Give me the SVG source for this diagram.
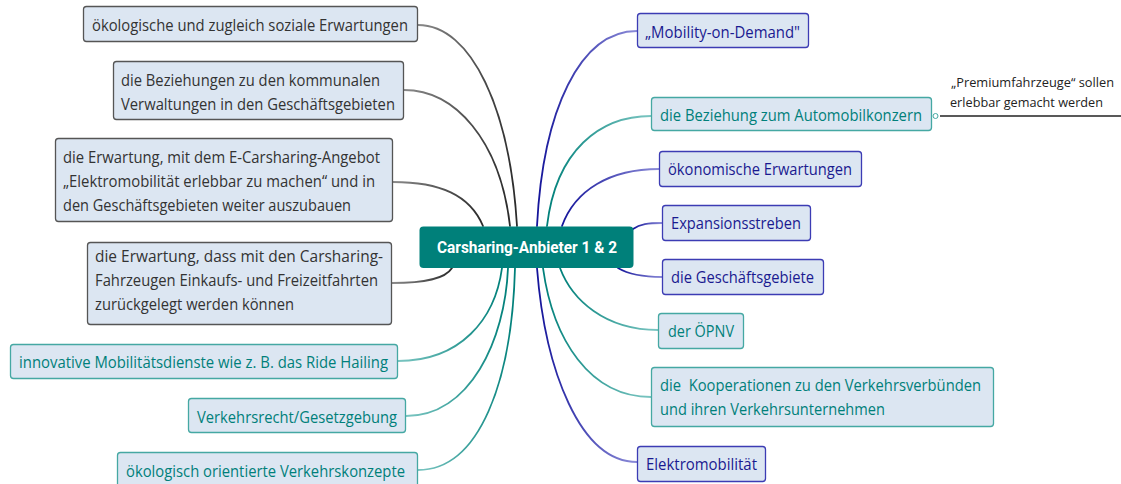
<svg xmlns="http://www.w3.org/2000/svg" width="1121" height="484" viewBox="0 0 1121 484">
  <defs>
    <!-- connector strokes fade toward the outer topic -->
    <linearGradient id="gGrayL" x1="0" y1="0" x2="1" y2="0"><stop offset="0" stop-color="#8a8a8a"/><stop offset="1" stop-color="#2a2a2a"/></linearGradient>
    <linearGradient id="gTealL" x1="0" y1="0" x2="1" y2="0"><stop offset="0" stop-color="#7cc6c2"/><stop offset="1" stop-color="#00807a"/></linearGradient>
    <linearGradient id="gTealR" x1="1" y1="0" x2="0" y2="0"><stop offset="0" stop-color="#7cc6c2"/><stop offset="1" stop-color="#00807a"/></linearGradient>
    <linearGradient id="gBlueR" x1="1" y1="0" x2="0" y2="0"><stop offset="0" stop-color="#8c8cd8"/><stop offset="1" stop-color="#14149a"/></linearGradient>
  </defs>
  <style>
    .box { fill: #dce6f2; stroke-width: 1.3; }
    .gray .box { stroke: #555555; }
    .teal .box { stroke: #45a8a3; }
    .blue .box { stroke: #3c3cb4; }
    .t { font-family: "Open Sans", "Noto Sans", "DejaVu Sans", sans-serif; font-size: 16.8px; white-space: pre; }
    .gray .t { fill: #333333; }
    .teal .t { fill: #00807a; }
    .blue .t { fill: #1a1a90; }
    .note { font-family: "Open Sans", "Noto Sans", sans-serif; font-size: 13.5px; fill: #222222; }
    .c { fill: none; stroke-width: 1.8; stroke-linecap: round; }
    .cg { stroke: url(#gGrayL); }
    .ctl { stroke: url(#gTealL); }
    .ctr { stroke: url(#gTealR); }
    .cbr { stroke: url(#gBlueR); }
  </style>

  <rect width="1121" height="484" fill="#ffffff"/>

  <!-- connectors between the central topic and its subtopics -->
  <g id="connectors">
    <!-- left, gray -->
    <path class="c cg" d="M418 25 C 472 25, 510 110, 517 226"/>
    <path class="c cg" d="M404 90 C 455 90, 500 140, 510 226"/>
    <path class="c cg" d="M393 182 C 440 182, 470 195, 483 226"/>
    <path class="c cg" d="M392 283 C 425 283, 445 279, 452 268"/>
    <!-- left, teal -->
    <path class="c ctl" d="M398 361 C 460 361, 495 320, 502 268"/>
    <path class="c ctl" d="M406 416 C 470 416, 505 340, 508 268"/>
    <path class="c ctl" d="M418 470 C 480 470, 512 380, 515 268"/>
    <!-- right -->
    <path class="c cbr" d="M637 31 C 580 31, 543 110, 537 226"/>
    <path class="c ctr" d="M651 116 C 600 116, 556 150, 547 226"/>
    <path class="c cbr" d="M659 169 C 610 169, 575 190, 562 226"/>
    <path class="c cbr" d="M662 223 C 648 223, 640 224, 633 229"/>
    <path class="c cbr" d="M662 277 C 640 277, 628 274, 618 268"/>
    <path class="c ctr" d="M658 330 C 605 330, 572 300, 560 268"/>
    <path class="c ctr" d="M651 397 C 590 397, 553 340, 543 268"/>
    <path class="c cbr" d="M637 462 C 580 462, 545 370, 537 268"/>
    <!-- note line -->
    <line x1="940" y1="116" x2="1121" y2="116" stroke="#222222" stroke-width="1.6"/>
  </g>

  <g id="center">
    <rect x="419.5" y="226.5" width="214" height="41.5" rx="4" fill="#00807a"/>
    <text x="527" y="253" text-anchor="middle" font-family="Roboto, 'Liberation Sans', sans-serif" font-weight="bold" font-size="17" fill="#ffffff" textLength="180" lengthAdjust="spacingAndGlyphs">Carsharing-Anbieter 1 &amp; 2</text>
  </g>

  <g id="n-soziale" class="gray">
    <rect class="box" x="83.5" y="6.5" width="334" height="35" rx="3"/>
    <text class="t" x="92" y="31" textLength="316" lengthAdjust="spacingAndGlyphs">ökologische und zugleich soziale Erwartungen</text>
  </g>

  <g id="n-kommunal" class="gray">
    <rect class="box" x="113.5" y="61.5" width="290" height="58" rx="3"/>
    <text class="t" x="121" y="86" textLength="259" lengthAdjust="spacingAndGlyphs">die Beziehungen zu den kommunalen</text>
    <text class="t" x="121" y="110" textLength="274" lengthAdjust="spacingAndGlyphs">Verwaltungen in den Geschäftsgebieten</text>
  </g>

  <g id="n-ecarsharing" class="gray">
    <rect class="box" x="55.5" y="138.5" width="337" height="83" rx="3"/>
    <text class="t" x="63" y="163" textLength="317" lengthAdjust="spacingAndGlyphs">die Erwartung, mit dem E-Carsharing-Angebot</text>
    <text class="t" x="63" y="187" textLength="312" lengthAdjust="spacingAndGlyphs">„Elektromobilität erlebbar zu machen“ und in</text>
    <text class="t" x="63" y="211" textLength="288" lengthAdjust="spacingAndGlyphs">den Geschäftsgebieten weiter auszubauen</text>
  </g>

  <g id="n-freizeit" class="gray">
    <rect class="box" x="87.5" y="242.5" width="304" height="82" rx="3"/>
    <text class="t" x="95" y="262" textLength="288" lengthAdjust="spacingAndGlyphs">die Erwartung, dass mit den Carsharing-</text>
    <text class="t" x="95" y="286" textLength="283" lengthAdjust="spacingAndGlyphs">Fahrzeugen Einkaufs- und Freizeitfahrten</text>
    <text class="t" x="95" y="310" textLength="199" lengthAdjust="spacingAndGlyphs">zurückgelegt werden können</text>
  </g>

  <g id="n-ridehailing" class="teal">
    <rect class="box" x="10.5" y="344.5" width="387" height="34" rx="3"/>
    <text class="t" x="19" y="368" textLength="369" lengthAdjust="spacingAndGlyphs">innovative Mobilitätsdienste wie z. B. das Ride Hailing</text>
  </g>

  <g id="n-recht" class="teal">
    <rect class="box" x="188.5" y="398.5" width="217" height="34" rx="3"/>
    <text class="t" x="197" y="423" textLength="200" lengthAdjust="spacingAndGlyphs">Verkehrsrecht/Gesetzgebung</text>
  </g>

  <g id="n-konzepte" class="teal">
    <rect class="box" x="117.5" y="452.5" width="300" height="36" rx="3"/>
    <text class="t" x="126" y="477" textLength="279" lengthAdjust="spacingAndGlyphs">ökologisch orientierte Verkehrskonzepte</text>
  </g>

  <g id="n-mod" class="blue">
    <rect class="box" x="637.5" y="13.5" width="171" height="34" rx="3"/>
    <text class="t" x="645" y="38" textLength="155" lengthAdjust="spacingAndGlyphs">„Mobility-on-Demand"</text>
  </g>

  <g id="n-automobil" class="teal">
    <rect class="box" x="651.5" y="97.5" width="280" height="33" rx="3"/>
    <text class="t" x="660" y="121" textLength="262" lengthAdjust="spacingAndGlyphs">die Beziehung zum Automobilkonzern</text>
    <circle cx="935.5" cy="116" r="2.5" fill="#ffffff" stroke="#45a8a3" stroke-width="1"/>
  </g>

  <g id="n-premium">
    <text class="note" x="951" y="87" textLength="163" lengthAdjust="spacingAndGlyphs">„Premiumfahrzeuge“ sollen</text>
    <text class="note" x="950" y="107" textLength="153" lengthAdjust="spacingAndGlyphs">erlebbar gemacht werden</text>
  </g>

  <g id="n-oekonomisch" class="blue">
    <rect class="box" x="659.5" y="151.5" width="202" height="35" rx="3"/>
    <text class="t" x="668" y="175" textLength="184" lengthAdjust="spacingAndGlyphs">ökonomische Erwartungen</text>
  </g>

  <g id="n-expansion" class="blue">
    <rect class="box" x="662.5" y="205.5" width="148" height="35" rx="3"/>
    <text class="t" x="671" y="229" textLength="130" lengthAdjust="spacingAndGlyphs">Expansionsstreben</text>
  </g>

  <g id="n-gebiete" class="blue">
    <rect class="box" x="662.5" y="259.5" width="161" height="35" rx="3"/>
    <text class="t" x="671" y="283" textLength="143" lengthAdjust="spacingAndGlyphs">die Geschäftsgebiete</text>
  </g>

  <g id="n-oepnv" class="teal">
    <rect class="box" x="658.5" y="313.5" width="85" height="35" rx="3"/>
    <text class="t" x="668" y="337" textLength="66" lengthAdjust="spacingAndGlyphs">der ÖPNV</text>
  </g>

  <g id="n-kooperation" class="teal">
    <rect class="box" x="651.5" y="367.5" width="342" height="59" rx="3"/>
    <text class="t" x="660" y="391" textLength="321" lengthAdjust="spacingAndGlyphs">die  Kooperationen zu den Verkehrsverbünden</text>
    <text class="t" x="660" y="415" textLength="225" lengthAdjust="spacingAndGlyphs">und ihren Verkehrsunternehmen</text>
  </g>

  <g id="n-elektro" class="blue">
    <rect class="box" x="637.5" y="446.5" width="128" height="35" rx="3"/>
    <text class="t" x="646" y="470" textLength="111" lengthAdjust="spacingAndGlyphs">Elektromobilität</text>
  </g>
</svg>
